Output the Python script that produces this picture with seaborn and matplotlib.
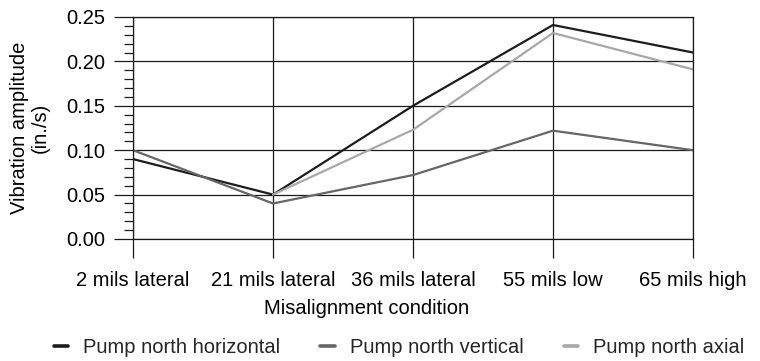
import numpy as np
import pandas as pd
import matplotlib
matplotlib.use("Agg")
import matplotlib.pyplot as plt
import seaborn as sns

# misalignment conditions on the x axis
conditions = ["2 mils lateral", "21 mils lateral", "36 mils lateral", "55 mils low", "65 mils high"]

# vibration amplitude (in./s)
horizontal = [0.090, 0.050, 0.150, 0.241, 0.210]
vertical = [0.100, 0.040, 0.072, 0.122, 0.100]
axial = [np.nan, 0.050, 0.123, 0.232, 0.191]

series_names = ["Pump north horizontal", "Pump north vertical", "Pump north axial"]
colors = ["#1c1c1c", "#666666", "#a8a8a8"]

y_ticks = [0.00, 0.05, 0.10, 0.15, 0.20, 0.25]

# long-form table for seaborn
df = pd.DataFrame({
    "Condition": conditions * 3,
    "Amplitude": horizontal + vertical + axial,
    "Series": [series_names[0]] * 5 + [series_names[1]] * 5 + [series_names[2]] * 5,
})

sns.set_theme(style="white")
plt.rcParams["font.family"] = ["Liberation Sans", "DejaVu Sans"]
fs = 14.5

fig = plt.figure(figsize=(7.6, 3.61), dpi=100)
ax = fig.add_axes([133 / 760, 1 - 239 / 361, 560 / 760, 222 / 361])

sns.lineplot(data=df, x="Condition", y="Amplitude", hue="Series",
             palette=colors, linewidth=1.6, ax=ax, sort=False)

ax.set_xlim(0, len(conditions) - 1)
ax.set_ylim(0, 0.25)
ax.set_yticks(y_ticks)
ax.set_yticklabels([f"{v:.2f}" for v in y_ticks])
ax.yaxis.set_minor_locator(matplotlib.ticker.MultipleLocator(0.01))

ax.grid(True, which="major", color="#1a1a1a", linewidth=0.9)
for s in ax.spines.values():
    s.set_color("#1a1a1a")
    s.set_linewidth(0.9)

ax.tick_params(axis="y", which="major", direction="out", length=13.7, width=0.9,
               color="#1a1a1a", left=True, labelsize=fs, pad=6, labelcolor="black")
ax.tick_params(axis="y", which="minor", direction="out", length=6.5, width=0.9,
               color="#1a1a1a", left=True)
ax.tick_params(axis="x", which="major", direction="out", length=13.7, width=0.9,
               color="#1a1a1a", bottom=True, labelsize=fs, pad=9, labelcolor="black")

ax.set_ylabel("Vibration amplitude\n(in./s)", fontsize=fs, color="black", linespacing=1.15)
ax.yaxis.set_label_coords(-0.148, 0.5)
ax.set_xlabel("Misalignment condition", fontsize=fs, color="black")
ax.xaxis.set_label_coords(0.417, -0.272)

# legend along the bottom
handles, labels = ax.get_legend_handles_labels()
ax.get_legend().remove()
leg = ax.legend(handles, labels, loc="center", bbox_to_anchor=(0.525, 0.037),
                bbox_transform=fig.transFigure, ncol=3, frameon=False, fontsize=fs,
                handlelength=0.7, handletextpad=0.75, columnspacing=2.0)
for line in leg.get_lines():
    line.set_linewidth(2.6)

fig.savefig("out.png", dpi=100)
